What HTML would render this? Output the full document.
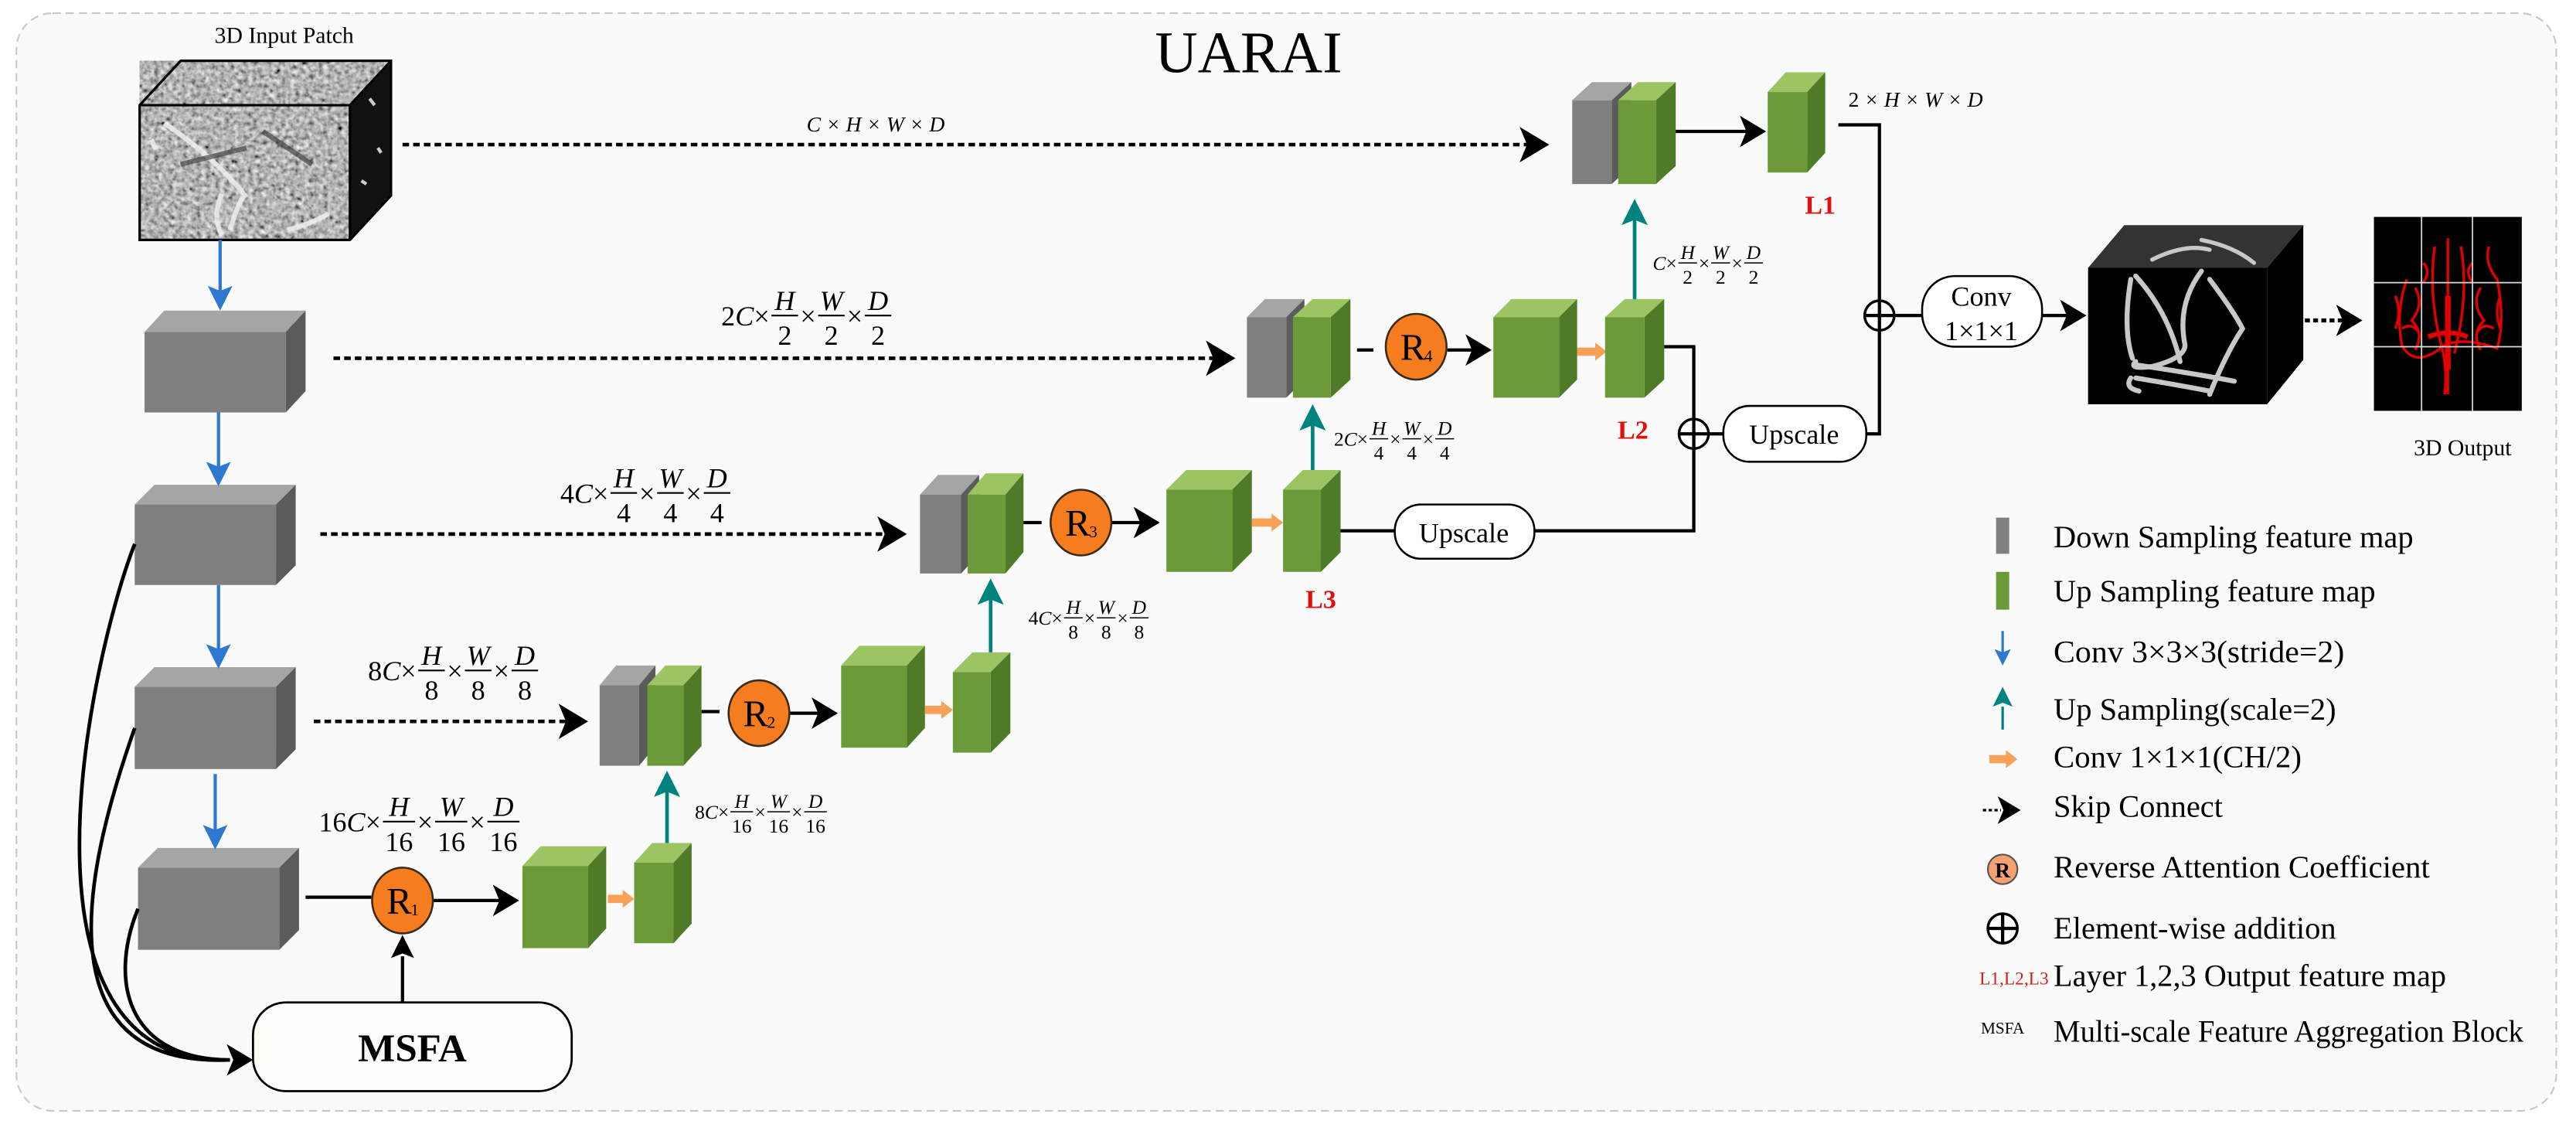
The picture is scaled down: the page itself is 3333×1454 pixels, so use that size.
<!DOCTYPE html>
<html><head><meta charset="utf-8">
<style>
html,body{margin:0;padding:0;background:#fff;}
svg{display:block;}
text{font-family:"Liberation Serif",serif;}
</style></head>
<body>
<svg id="s" width="3333" height="1454" viewBox="0 0 1568 684" preserveAspectRatio="none" xmlns="http://www.w3.org/2000/svg">
<defs>
<filter id="noise" x="0" y="0" width="100%" height="100%">
<feTurbulence type="fractalNoise" baseFrequency="0.35" numOctaves="2" seed="3"/>
<feColorMatrix type="matrix" values="0.6 0.6 0.6 0 -0.45  0.6 0.6 0.6 0 -0.45  0.6 0.6 0.6 0 -0.45  0 0 0 0 1"/>
</filter>
</defs>
<rect x="0" y="0" width="1568" height="684" fill="#ffffff"/>
<rect x="10" y="8" width="1546" height="668" rx="22" fill="#fafafa" stroke="#c8c8c8" stroke-width="1" stroke-dasharray="5,3"/>
<text x="760" y="44" font-size="36" text-anchor="middle">UARAI</text>
<text x="173" y="26" font-size="14" text-anchor="middle">3D Input  Patch</text>
<g id="g"></g>
</svg>
<script>
var o='';
function blk(x,y,w,h,dx,dy,c){
 var f,t,r; if(c=='g'){f='#7f7f7f';t='#a5a5a5';r='#5b5b5b';} else {f='#6c9a38';t='#9cc462';r='#4f7a27';}
 o+='<polygon points="'+x+','+y+' '+(x+dx)+','+(y-dy)+' '+(x+w+dx)+','+(y-dy)+' '+(x+w)+','+y+'" fill="'+t+'"/>';
 o+='<polygon points="'+(x+w)+','+y+' '+(x+w+dx)+','+(y-dy)+' '+(x+w+dx)+','+(y+h-dy)+' '+(x+w)+','+(y+h)+'" fill="'+r+'"/>';
 o+='<rect x="'+x+'" y="'+y+'" width="'+w+'" height="'+h+'" fill="'+f+'"/>';
}
function line(x1,y1,x2,y2,extra){o+='<line x1="'+x1+'" y1="'+y1+'" x2="'+x2+'" y2="'+y2+'" stroke="#000" stroke-width="2" '+(extra||'')+'/>';}
function head(x,y,dir,sz,col){ sz=sz||14; col=col||'#000'; var p;
 if(dir=='r') p=[[x,y],[x-sz,y-sz*0.6],[x-sz*0.75,y],[x-sz,y+sz*0.6]];
 if(dir=='u') p=[[x,y],[x-sz*0.5,y+sz],[x,y+sz*0.8],[x+sz*0.5,y+sz]];
 if(dir=='d') p=[[x,y],[x-sz*0.5,y-sz],[x,y-sz*0.8],[x+sz*0.5,y-sz]];
 o+='<polygon points="'+p.map(function(a){return a.join(',')}).join(' ')+'" fill="'+col+'"/>';}
function dash(x1,y,x2){o+='<line x1="'+x1+'" y1="'+y+'" x2="'+(x2-10)+'" y2="'+y+'" stroke="#000" stroke-width="2.2" stroke-dasharray="4,2.5"/>';head(x2,y,'r',18);}
function solidArrow(x1,y,x2){line(x1,y,x2-10,y);head(x2,y,'r',16);}
function blue(x,y1,y2){o+='<line x1="'+x+'" y1="'+y1+'" x2="'+x+'" y2="'+(y2-10)+'" stroke="#2e78d2" stroke-width="2"/>';head(x,y2,'d',15,'#2e78d2');}
function teal(x,y1,y2){o+='<line x1="'+x+'" y1="'+y1+'" x2="'+x+'" y2="'+(y2+12)+'" stroke="#00827f" stroke-width="2.2"/>';head(x,y2,'u',16,'#00827f');}
function orange(x1,x2,y){o+='<polygon points="'+x1+','+(y-2.5)+' '+(x2-7)+','+(y-2.5)+' '+(x2-7)+','+(y-5.5)+' '+x2+','+y+' '+(x2-7)+','+(y+5.5)+' '+(x2-7)+','+(y+2.5)+' '+x1+','+(y+2.5)+'" fill="#f7a056"/>';}
function R(cx,cy,n){o+='<ellipse cx="'+cx+'" cy="'+cy+'" rx="18.5" ry="20" fill="#f57c1f" stroke="#3a2a1a" stroke-width="1.2"/>';
 o+='<text x="'+(cx-2)+'" y="'+(cy+8)+'" font-size="23" text-anchor="middle">R</text><text x="'+(cx+5)+'" y="'+(cy+9)+'" font-size="10">'+n+'</text>';}
function plus(cx,cy){o+='<circle cx="'+cx+'" cy="'+cy+'" r="9" fill="#fff" stroke="#000" stroke-width="1.6"/>';line(cx-9,cy,cx+9,cy,'stroke-width="1.6"');line(cx,cy-9,cx,cy+9,'stroke-width="1.6"');}
function frac(x,y,pre,dens,s){
 var cur=x; o+='<text x="'+cur+'" y="'+(y+s*0.35)+'" font-size="'+s+'">'+pre.replace('C','<tspan font-style="italic">C</tspan>')+'</text>';
 cur+=(pre.length-1)*s*0.5+s*0.8; var nums=['H','W','D'];
 for(var i=0;i<3;i++){var w=(dens.length>1?1.15:0.95)*s;
  o+='<text x="'+(cur+w/2)+'" y="'+(y-s*0.2)+'" font-size="'+s+'" font-style="italic" text-anchor="middle">'+nums[i]+'</text>';
  o+='<line x1="'+cur+'" y1="'+y+'" x2="'+(cur+w)+'" y2="'+y+'" stroke="#000" stroke-width="'+(s>14?1:0.7)+'"/>';
  o+='<text x="'+(cur+w/2)+'" y="'+(y+s*1.05)+'" font-size="'+s+'" text-anchor="middle">'+dens+'</text>';
  cur+=w; if(i<2){o+='<text x="'+(cur+s*0.36)+'" y="'+(y+s*0.35)+'" font-size="'+s+'" text-anchor="middle">×</text>';cur+=s*0.72;}}
}
/* input cube */
o+='<rect x="85" y="64" width="128" height="82" fill="#888" filter="url(#noise)"/>';
o+='<polygon points="85,64 110,37 238,37 213,64" fill="#999" filter="url(#noise)"/>';
o+='<polygon points="213,64 238,37 238,119 213,146" fill="#111"/>';
o+='<path d="M225,60 l3,4 M230,90 l2,3 M220,110 l3,2" stroke="#ccc" stroke-width="2"/>';
o+='<path d="M100,75 Q130,95 150,120 M135,118 q-6,14 0,25 M140,140 q4,-14 8,-20 M175,140 q15,-4 25,-10 M92,85 l3,6" stroke="#eee" stroke-width="3" fill="none" opacity="0.85"/>';
o+='<path d="M110,100 l40,-10 M160,80 l30,20" stroke="#333" stroke-width="3" fill="none" opacity="0.6"/>';
o+='<path d="M85,64 L110,37 L238,37 L238,119 L213,146 L85,146 Z M85,64 L213,64 L238,37 M213,64 L213,146" fill="none" stroke="#000" stroke-width="1.5"/>';
/* skip line 1 */
dash(245,88,943);
o+='<text x="533" y="80" font-size="13" font-style="italic" text-anchor="middle">C × H × W × D</text>';
/* encoder */
blk(88,202,86,49,12,13,'g');
blk(82,307,86,49,12,12,'g');
blk(82,418,86,50,12,12,'g');
blk(84,528,86,50,12,12,'g');
blue(134,146,189);
blue(133,251,296);
blue(133,356,407);
blue(131,471,517);
/* skip 2,3,4 */
dash(203,218,752); frac(439,192,'2C×','2',17);
dash(195,325,552); frac(341,300,'4C×','4',17);
dash(191,439,358); frac(224,408,'8C×','8',17);
frac(194,500,'16C×','16',17);
/* bottom level */
line(186,546,226,546);
R(245,548,'1');
solidArrow(264,548,316);
blk(318,527,40,50,11,12,'v');
orange(370,386,547);
blk(386,525,24,49,11,12,'v');
teal(406,513,469);
frac(423,494,'8C×','16',12);
/* MSFA */
o+='<rect x="154" y="610" width="194" height="54" rx="20" fill="#fbfdf8" stroke="#000" stroke-width="1.3"/>';
o+='<text x="251" y="646" font-size="24" font-weight="bold" text-anchor="middle">MSFA</text>';
line(245,610,245,582); head(245,569,'u',14);
o+='<path d="M82,331 C55,400 0,650 140,645 M82,443 C55,520 20,650 140,645 M84,553 C65,600 80,645 140,645" fill="none" stroke="#000" stroke-width="2.2"/>';
head(154,645,'r',16);
/* level 2 (R2) */
blk(365,417,24,49,10,12,'g');
blk(394,417,22,49,11,12,'v');
line(427,433,438,433);
R(462,434,'2');
solidArrow(481,434,510);
blk(512,405,40,50,11,12,'v');
orange(563,580,432);
blk(580,409,23,49,12,12,'v');
teal(603,397,352);
frac(626,376,'4C×','8',12);
/* level 3 (R3) */
blk(560,301,25,48,11,12,'g');
blk(589,301,23,48,11,13,'v');
line(623,318,634,318);
R(658,318,'3');
solidArrow(677,318,706);
blk(710,298,40,50,12,12,'v');
orange(762,781,318);
blk(781,298,23,50,12,12,'v');
o+='<text x="804" y="370" font-size="16" font-weight="bold" fill="#e01010" text-anchor="middle">L3</text>';
teal(799,286,246);
frac(812,267,'2C×','4',12);
/* upscale L3 */
line(816,323,849,323);
o+='<rect x="849" y="307" width="85" height="33" rx="16" fill="#fff" stroke="#000" stroke-width="1.2"/>';
o+='<text x="891" y="330" font-size="17" text-anchor="middle">Upscale</text>';
o+='<polyline points="934,323 1031,323 1031,273" fill="none" stroke="#000" stroke-width="2"/>';
plus(1031,264);
line(1040,264,1049,264);
o+='<rect x="1049" y="247" width="87" height="34" rx="16" fill="#fff" stroke="#000" stroke-width="1.2"/>';
o+='<text x="1092" y="270" font-size="17" text-anchor="middle">Upscale</text>';
/* level 4 (R4) */
blk(759,193,24,49,11,11,'g');
blk(787,193,23,49,12,11,'v');
line(826,213,836,213);
R(862,211,'4');
solidArrow(881,213,908);
blk(909,193,40,49,11,11,'v');
orange(960,978,214);
blk(977,193,24,49,12,11,'v');
o+='<text x="994" y="267" font-size="16" font-weight="bold" fill="#e01010" text-anchor="middle">L2</text>';
o+='<polyline points="1013,211 1031,211 1031,255" fill="none" stroke="#000" stroke-width="2"/>';
teal(995,182,121);
frac(1006,160,'C×','2',12);
/* top level */
blk(957,61,24,51,12,11,'g');
blk(985,61,23,51,12,11,'v');
solidArrow(1020,80,1075);
blk(1076,56,24,49,11,12,'v');
o+='<text x="1108" y="130" font-size="16" font-weight="bold" fill="#e01010" text-anchor="middle">L1</text>';
o+='<text x="1166" y="65" font-size="13" font-style="italic" text-anchor="middle"><tspan font-style="normal">2</tspan> × H × W × D</text>';
o+='<polyline points="1119,76 1144,76 1144,183" fill="none" stroke="#000" stroke-width="2"/>';
plus(1144,192);
o+='<polyline points="1144,201 1144,264 1136,264" fill="none" stroke="#000" stroke-width="2"/>';
line(1153,192,1170,192);
o+='<rect x="1170" y="168" width="73" height="43" rx="20" fill="#fff" stroke="#000" stroke-width="1.2"/>';
o+='<text x="1206" y="186" font-size="17" text-anchor="middle">Conv</text><text x="1206" y="207" font-size="17" text-anchor="middle">1×1×1</text>';
solidArrow(1243,192,1270);
/* black cube */
o+='<polygon points="1271,163 1293,137 1402,137 1380,163" fill="#333"/>';
o+='<polygon points="1380,163 1402,137 1402,219 1380,246" fill="#000"/>';
o+='<rect x="1271" y="163" width="109" height="83" fill="#000"/>';
o+='<g fill="none" stroke="#c8c8c8" stroke-width="3" stroke-linecap="round">';
o+='<path d="M1297,170 Q1292,200 1298,218 M1300,168 Q1320,190 1327,220 M1340,165 Q1325,185 1330,210 Q1330,218 1310,223 Q1295,225 1300,220 M1300,222 Q1340,228 1360,232 M1345,170 Q1360,190 1365,200 Q1355,215 1345,240 M1300,230 Q1330,235 1345,238 M1297,230 q-4,6 5,8"/>';
o+='<path d="M1310,158 Q1330,148 1345,152 M1340,146 Q1360,150 1372,160" stroke-width="2.5"/>';
o+='</g>';
o+='<line x1="1403" y1="195" x2="1426" y2="195" stroke="#000" stroke-width="2.5" stroke-dasharray="3,2"/>';
head(1438,195,'r',16);
/* output image */
o+='<rect x="1445" y="132" width="90" height="118" fill="#000"/>';
o+='<g fill="none" stroke="#e00000" stroke-width="1.6">';
o+='<path d="M1490,145 L1490,240 M1482,150 Q1478,180 1486,210 Q1490,225 1488,240 M1498,150 Q1503,180 1494,215 M1465,170 Q1458,190 1462,210 Q1470,225 1488,210 Q1500,205 1520,212 Q1525,195 1520,170 Q1512,160 1515,150 M1470,175 q6,10 -2,20 q8,8 2,18 M1510,175 q-6,10 2,20 q-8,8 -2,18 M1475,160 q5,5 0,12 M1505,160 q-5,5 0,12 M1462,200 q6,-4 10,2 M1518,200 q-6,-4 -10,2 M1458,180 q4,10 0,20 M1522,180 q-4,10 0,20"/>';
o+='<path d="M1478,205 Q1490,200 1502,205" stroke-width="3"/><path d="M1490,180 L1490,225" stroke-width="3.5"/>';
o+='</g>';
o+='<path d="M1445,172 H1535 M1445,211 H1535 M1474,132 V250 M1505,132 V250" stroke="#ddd" stroke-width="0.8"/>';
o+='<text x="1499" y="277" font-size="14" text-anchor="middle">3D Output</text>';
/* legend */
var L=[[333,'Down Sampling feature map',219],[366,'Up Sampling feature map',196],[403,'Conv 3×3×3(stride=2)',177],[438,'Up Sampling(scale=2)',172],[467,'Conv 1×1×1(CH/2)',151],[497,'Skip Connect',103],[534,'Reverse Attention Coefficient',229],[571,'Element-wise addition',172],[600,'Layer 1,2,3 Output feature map',239],[634,'Multi-scale Feature Aggregation Block',286]];
L.forEach(function(a){o+='<text x="1250" y="'+a[0]+'" font-size="19" textLength="'+a[2]+'" lengthAdjust="spacingAndGlyphs">'+a[1]+'</text>';});
o+='<rect x="1215" y="315" width="8" height="22" fill="#808080"/>';
o+='<rect x="1215" y="348" width="8" height="23" fill="#6c9a38"/>';
o+='<line x1="1219" y1="384" x2="1219" y2="398" stroke="#2e78d2" stroke-width="1.5"/>';head(1219,405,'d',10,'#2e78d2');
o+='<line x1="1219" y1="430" x2="1219" y2="444" stroke="#00827f" stroke-width="1.5"/>';head(1219,418,'u',12,'#00827f');
orange(1211,1228,462);
o+='<line x1="1207" y1="493" x2="1218" y2="493" stroke="#000" stroke-width="1.5" stroke-dasharray="2,1.5"/>';head(1230,493,'r',14);
o+='<circle cx="1219" cy="529" r="9" fill="#f7a070" stroke="#555" stroke-width="1"/><text x="1219" y="534" font-size="13" font-weight="bold" text-anchor="middle">R</text>';
plus(1219,565);
o+='<text x="1247" y="599" font-size="11" fill="#d02020" text-anchor="end">L1,L2,L3</text>';
o+='<text x="1219" y="629" font-size="10" text-anchor="middle">MSFA</text>';
document.getElementById('g').innerHTML=o;
</script>
</body></html>
